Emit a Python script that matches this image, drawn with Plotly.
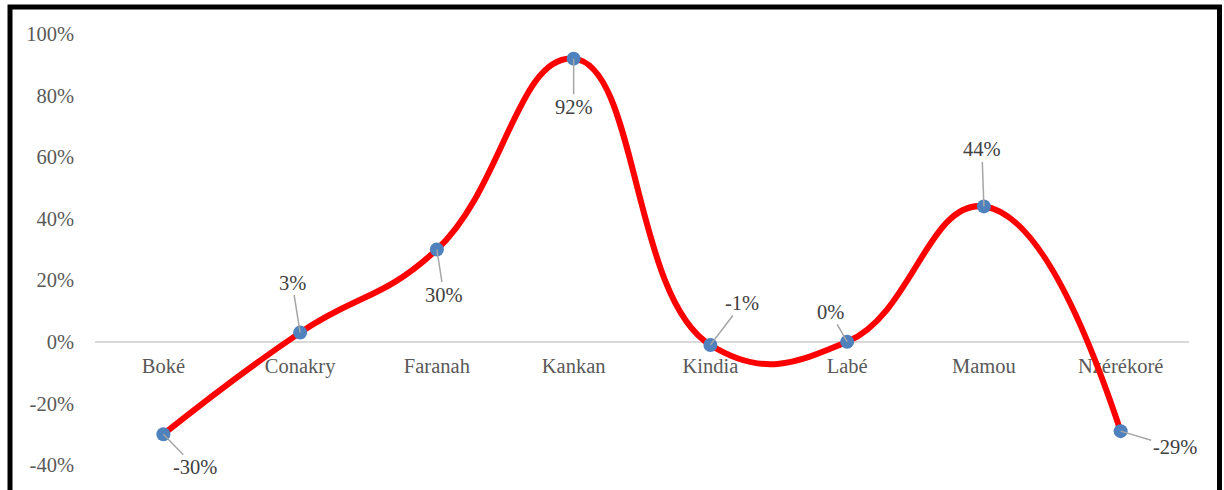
import plotly.graph_objects as go

regions = ["Boké", "Conakry", "Faranah", "Kankan", "Kindia", "Labé", "Mamou", "Nzérékoré"]
values = [-30, 3, 30, 92, -1, 0, 44, -29]
label_dx = [32, -8, 7, 0, 32, -17, -2, 54]
label_dy = [33, -50, 45, 48, -42, -30, -57, 16]
y_ticks = [-40, -20, 0, 20, 40, 60, 80, 100]
y_tick_text = ["-40%", "-20%", "0%", "20%", "40%", "60%", "80%", "100%"]

FONT = "Liberation Serif, Times New Roman, serif"
FS = 20.5

fig = go.Figure()
fig.add_trace(go.Scatter(
    x=regions, y=values, mode="lines+markers",
    line=dict(color="#FF0000", width=6, shape="spline", smoothing=1.3),
    marker=dict(color="#4F81BD", size=14),
    cliponaxis=False, showlegend=False,
))

for r, v, dx, dy in zip(regions, values, label_dx, label_dy):
    fig.add_annotation(
        x=r, y=v, text=f"{v}%", showarrow=True, arrowhead=0, arrowwidth=1.5,
        arrowcolor="#A6A6A6", ax=dx, ay=dy, standoff=0,
        font=dict(family=FONT, size=FS, color="#404040"),
    )

L, R, T, B = 95, 35, 34, 25
W, H = 1224, 490
pw, ph = W - L - R, H - T - B

def px_x(p):
    return (p - L) / pw

def px_y(p):
    return (H - B - p) / ph

fig.add_shape(type="rect", xref="paper", yref="paper",
              x0=px_x(10), x1=px_x(1219.5), y0=px_y(505), y1=px_y(7),
              line=dict(color="black", width=5), fillcolor="rgba(0,0,0,0)")

fig.update_layout(
    width=W, height=H,
    margin=dict(l=L, r=R, t=T, b=B),
    paper_bgcolor="white", plot_bgcolor="white",
    font=dict(family=FONT, size=FS, color="#595959"),
    xaxis=dict(
        type="category", range=[-0.5, 7.5], showgrid=False, showline=False,
        ticks="", anchor="free", position=(0 - (-40)) / 140, layer="below traces",
        ticklabelstandoff=10,
        tickfont=dict(family=FONT, size=FS, color="#595959"),
    ),
    yaxis=dict(
        range=[-40, 100], tickvals=y_ticks, ticktext=y_tick_text, showgrid=False,
        zeroline=True, zerolinecolor="#D9D9D9", zerolinewidth=1.5,
        showline=False, ticks="", ticklabelstandoff=20,
        tickfont=dict(family=FONT, size=FS, color="#595959"),
    ),
)

fig.write_html("out.html")
